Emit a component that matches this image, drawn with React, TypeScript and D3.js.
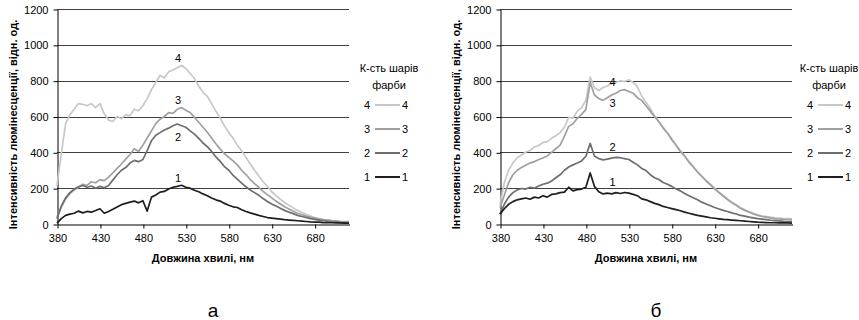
import * as d3 from "d3";
import React, { useEffect, useRef } from "react";

// wavelength grid, nm (5 nm step)
const wavelengths = d3.range(380, 721, 5);
const xTicks = [380, 430, 480, 530, 580, 630, 680];
const yTicks = [0, 200, 400, 600, 800, 1000, 1200];
const layers = ["4", "3", "2", "1"];
const layerColours = ["#c8c8c8", "#a0a0a0", "#6e6e6e", "#1e1e1e"];

// panel "а"
const spectraA4 = [215, 390, 560, 610, 640, 672, 668, 660, 672, 650, 672, 615, 580, 572, 600, 588, 610, 605, 640, 632, 660, 700, 750, 790, 830, 815, 850, 860, 872, 885, 868, 840, 812, 770, 735, 712, 672, 630, 590, 548, 510, 478, 440, 408, 372, 335, 300, 268, 236, 210, 180, 158, 138, 120, 105, 90, 76, 64, 54, 44, 36, 30, 24, 20, 16, 13, 10, 8, 7];
const spectraA3 = [40, 95, 140, 170, 190, 205, 222, 215, 236, 230, 248, 242, 262, 285, 310, 335, 362, 388, 420, 405, 440, 480, 520, 560, 585, 600, 622, 618, 640, 650, 635, 622, 595, 568, 540, 512, 480, 448, 418, 392, 372, 352, 330, 300, 276, 248, 225, 205, 182, 164, 146, 128, 112, 96, 84, 72, 60, 52, 44, 38, 33, 28, 25, 22, 19, 17, 15, 14, 13];
const spectraA2 = [30, 100, 145, 175, 195, 208, 215, 205, 212, 200, 210, 202, 215, 245, 275, 300, 315, 340, 355, 348, 360, 410, 465, 495, 510, 525, 535, 548, 558, 548, 540, 520, 502, 478, 452, 432, 405, 375, 350, 320, 300, 272, 250, 228, 208, 190, 175, 160, 142, 126, 112, 100, 88, 76, 66, 58, 48, 42, 36, 30, 26, 22, 18, 15, 12, 10, 8, 7, 6];
const spectraA1 = [5, 30, 48, 55, 60, 72, 62, 70, 66, 75, 85, 60, 70, 82, 95, 108, 115, 122, 128, 118, 130, 72, 150, 162, 178, 182, 195, 205, 210, 216, 205, 200, 188, 180, 168, 158, 145, 135, 128, 115, 105, 96, 92, 80, 70, 62, 55, 48, 42, 36, 33, 30, 27, 24, 22, 20, 18, 16, 14, 12, 11, 10, 8, 7, 7, 6, 6, 5, 5];

// panel "б"
const spectraB4 = [110, 230, 300, 340, 370, 385, 402, 410, 430, 438, 455, 460, 478, 492, 510, 540, 595, 590, 630, 650, 690, 820, 760, 745, 762, 770, 785, 790, 800, 795, 805, 790, 765, 715, 680, 645, 605, 568, 540, 505, 478, 440, 410, 378, 350, 322, 292, 268, 244, 222, 200, 178, 160, 140, 122, 108, 92, 80, 70, 60, 52, 46, 42, 38, 35, 33, 31, 30, 29];
const spectraB3 = [90, 160, 230, 275, 300, 315, 328, 340, 348, 360, 368, 380, 400, 420, 440, 490, 545, 560, 590, 612, 640, 790, 720, 700, 690, 705, 720, 730, 745, 750, 740, 730, 705, 690, 660, 630, 598, 572, 535, 508, 470, 440, 405, 380, 345, 318, 290, 265, 240, 218, 195, 175, 155, 136, 118, 104, 88, 76, 66, 56, 48, 42, 38, 33, 30, 28, 26, 25, 24];
const spectraB2 = [55, 110, 150, 175, 190, 198, 195, 205, 200, 212, 222, 228, 240, 258, 275, 300, 318, 330, 340, 352, 378, 450, 378, 365, 358, 362, 368, 372, 370, 365, 360, 345, 330, 310, 298, 275, 258, 248, 232, 222, 210, 196, 185, 170, 158, 146, 135, 122, 112, 102, 92, 84, 76, 70, 62, 56, 48, 44, 38, 34, 30, 27, 24, 21, 19, 17, 15, 14, 13];
const spectraB1 = [55, 85, 110, 125, 135, 140, 145, 138, 150, 145, 158, 150, 165, 168, 175, 178, 205, 185, 192, 195, 205, 285, 210, 180, 168, 172, 168, 175, 170, 176, 172, 165, 158, 140, 135, 125, 115, 108, 98, 92, 86, 80, 74, 66, 60, 54, 48, 44, 40, 35, 32, 29, 26, 24, 22, 20, 18, 16, 14, 12, 10, 9, 8, 7, 7, 6, 6, 6, 5];

// where the curve numbers sit (nm, value)
const curveLabelNmA = 521;
const curveLabelValuesA = [927, 693, 486, 257];
const curveLabelNmB = 511;
const curveLabelValuesB = [793, 676, 430, 235];

const panels = [
  { left: 57, letter: "а", legendTitleX: 40, series: [spectraA4, spectraA3, spectraA2, spectraA1], labelNm: curveLabelNmA, labelValues: curveLabelValuesA },
  { left: 500, letter: "б", legendTitleX: 37, series: [spectraB4, spectraB3, spectraB2, spectraB1], labelNm: curveLabelNmB, labelValues: curveLabelValuesB },
];

const plot = { top: 9, width: 292, height: 215 };
const narrow = "'Liberation Sans Narrow', 'Arial Narrow', 'Liberation Sans', Arial, sans-serif";

function drawPanel(root: any, panel: any) {
  const g = root.append("g").attr("transform", `translate(${panel.left}, ${plot.top})`);
  const x = d3.scaleLinear().domain([380, 720]).range([0, plot.width]);
  const y = d3.scaleLinear().domain([0, 1200]).range([plot.height, 0]);

  // gridlines
  g.selectAll(".grid")
    .data(yTicks.filter(t => t > 0))
    .join("line")
    .attr("class", "grid")
    .attr("x1", 0)
    .attr("x2", plot.width)
    .attr("y1", (d: number) => Math.round(y(d)) + 0.5)
    .attr("y2", (d: number) => Math.round(y(d)) + 0.5)
    .attr("stroke", "#404040")
    .attr("stroke-width", 1);

  // axes
  const yAxis = g.append("g")
    .attr("transform", "translate(0.5, 0.5)")
    .call(d3.axisLeft(y).tickValues(yTicks).tickFormat(d3.format("d")).tickSize(4).tickSizeOuter(0).tickPadding(5));
  const xAxis = g.append("g")
    .attr("transform", `translate(0.5, ${plot.height + 0.5})`)
    .call(d3.axisBottom(x).tickValues(xTicks).tickFormat(d3.format("d")).tickSize(4).tickSizeOuter(0).tickPadding(6));
  [yAxis, xAxis].forEach(a => {
    a.selectAll("path, line").attr("stroke", "#000");
    a.selectAll("text").attr("fill", "#000").style("font-family", narrow).style("font-size", "11px");
  });

  // spectra
  const line = d3.line<number>()
    .x((d, i) => x(wavelengths[i]))
    .y(d => y(d));
  g.selectAll(".spectrum")
    .data(panel.series)
    .join("path")
    .attr("class", "spectrum")
    .attr("d", (d: number[]) => line(d))
    .attr("fill", "none")
    .attr("stroke", (d: any, i: number) => layerColours[i])
    .attr("stroke-width", 1.7)
    .attr("stroke-linejoin", "round");

  // curve numbers
  g.selectAll(".curve-label")
    .data(panel.labelValues)
    .join("text")
    .attr("class", "curve-label")
    .attr("x", x(panel.labelNm))
    .attr("y", (d: number) => y(d))
    .attr("dy", "0.35em")
    .attr("text-anchor", "middle")
    .attr("fill", "#000")
    .style("font-family", narrow)
    .style("font-size", "11px")
    .text((d: number, i: number) => layers[i]);

  // axis titles
  g.append("text")
    .attr("x", plot.width / 2)
    .attr("y", plot.height + 38)
    .attr("text-anchor", "middle")
    .style("font-family", narrow)
    .style("font-size", "11px")
    .style("font-weight", "bold")
    .text("Довжина хвилі, нм");
  g.append("text")
    .attr("transform", `translate(-44, ${plot.height / 2 + 8}) rotate(-90)`)
    .attr("text-anchor", "middle")
    .attr("dy", "0.35em")
    .style("font-family", narrow)
    .style("font-size", "11px")
    .style("font-weight", "bold")
    .text("Інтенсивність  люмінесценції,  відн. од.");

  // legend
  const legend = g.append("g").attr("transform", `translate(${plot.width}, 0)`);
  legend.append("text").attr("x", panel.legendTitleX).attr("y", 59).attr("dy", "0.35em").attr("text-anchor", "middle")
    .attr("fill", "#000").style("font-family", narrow).style("font-size", "11px").text("К-сть шарів");
  legend.append("text").attr("x", panel.legendTitleX).attr("y", 76).attr("dy", "0.35em").attr("text-anchor", "middle")
    .attr("fill", "#000").style("font-family", narrow).style("font-size", "11px").text("фарби");
  const rows = legend.selectAll(".row")
    .data(layers)
    .join("g")
    .attr("class", "row")
    .attr("transform", (d: string, i: number) => `translate(0, ${96 + i * 24})`);
  rows.append("text").attr("x", 18).attr("dy", "0.35em").attr("text-anchor", "middle")
    .style("font-family", narrow).style("font-size", "11px").attr("fill", "#000").text((d: string) => d);
  rows.append("line").attr("x1", 26).attr("x2", 51)
    .attr("stroke", (d: string, i: number) => layerColours[i]).attr("stroke-width", 2);
  rows.append("text").attr("x", 53).attr("dy", "0.35em").attr("fill", "#000")
    .style("font-family", narrow).style("font-size", "11px").text((d: string) => d);

  // panel letter
  root.append("text")
    .attr("x", panel.left + plot.width / 2 + 10)
    .attr("y", 317)
    .attr("text-anchor", "middle")
    .attr("fill", "#000")
    .style("font-family", "'Liberation Sans', Arial, sans-serif")
    .style("font-size", "19px")
    .text(panel.letter);
}

export default function App() {
  const svgRef = useRef<SVGSVGElement>(null);

  useEffect(() => {
    const svg = d3.select(svgRef.current);
    svg.selectAll("*").remove();
    panels.forEach(p => drawPanel(svg, p));
  }, []);

  return (
    <svg
      ref={svgRef}
      width={859}
      height={320}
      style={{ position: "absolute", left: 0, top: 0, background: "#fff" }}
    />
  );
}
